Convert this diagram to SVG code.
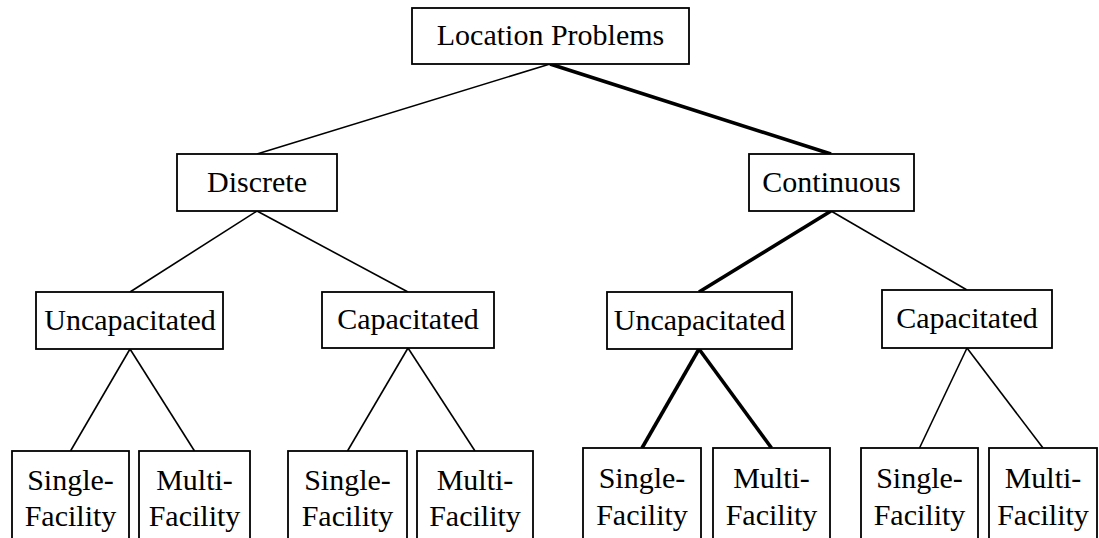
<svg xmlns="http://www.w3.org/2000/svg" width="1099" height="538" viewBox="0 0 1099 538">
<style>
  .box { fill: #ffffff; stroke: #000000; stroke-width: 1.8; }
  .lbl { fill: #000000; text-anchor: middle; }
  .thin { stroke: #000000; stroke-width: 1.6; fill: none; }
  .thick { stroke: #000000; stroke-width: 3.6; fill: none; }
</style>
<rect width="1099" height="538" fill="#ffffff"/>
<g id="connectors">
  <line class="thin" x1="550" y1="64" x2="257" y2="154"/>
  <line class="thick" x1="550" y1="64" x2="831" y2="154"/>
  <line class="thin" x1="257" y1="211" x2="130" y2="292"/>
  <line class="thin" x1="257" y1="211" x2="408" y2="292"/>
  <line class="thick" x1="831" y1="211" x2="699" y2="292"/>
  <line class="thin" x1="831" y1="211" x2="967" y2="290"/>
  <line class="thin" x1="130" y1="349" x2="70.5" y2="451"/>
  <line class="thin" x1="130" y1="349" x2="194.5" y2="451"/>
  <line class="thin" x1="408" y1="348" x2="347.5" y2="451"/>
  <line class="thin" x1="408" y1="348" x2="475" y2="451"/>
  <line class="thick" x1="699" y1="349" x2="642" y2="448"/>
  <line class="thick" x1="699" y1="349" x2="771.5" y2="448"/>
  <line class="thin" x1="967" y1="348" x2="919.5" y2="448"/>
  <line class="thin" x1="967" y1="348" x2="1043" y2="448"/>
</g>
<g id="root">
  <rect class="box" x="412" y="8" width="277" height="56"/>
  <text class="lbl" font-family="Liberation Serif, serif" font-size="30" x="550.5" y="45">Location Problems</text>
</g>
<g id="discrete">
  <rect class="box" x="177" y="154" width="160" height="57"/>
  <text class="lbl" font-family="Liberation Serif, serif" font-size="30" x="257" y="192">Discrete</text>
</g>
<g id="continuous">
  <rect class="box" x="749" y="154" width="165" height="57"/>
  <text class="lbl" font-family="Liberation Serif, serif" font-size="30" x="831.5" y="192">Continuous</text>
</g>
<g id="d-uncap">
  <rect class="box" x="36" y="292" width="187" height="57"/>
  <text class="lbl" font-family="Liberation Serif, serif" font-size="30" x="130" y="330">Uncapacitated</text>
</g>
<g id="d-cap">
  <rect class="box" x="322" y="292" width="172" height="56"/>
  <text class="lbl" font-family="Liberation Serif, serif" font-size="30" x="408" y="329">Capacitated</text>
</g>
<g id="c-uncap">
  <rect class="box" x="607" y="292" width="185" height="57"/>
  <text class="lbl" font-family="Liberation Serif, serif" font-size="30" x="699.5" y="330">Uncapacitated</text>
</g>
<g id="c-cap">
  <rect class="box" x="882" y="290" width="170" height="58"/>
  <text class="lbl" font-family="Liberation Serif, serif" font-size="30" x="967" y="328">Capacitated</text>
</g>
<g id="d-u-single">
  <rect class="box" x="12" y="451" width="117" height="100"/>
  <text class="lbl" font-family="Liberation Serif, serif" font-size="30" x="70.5" y="490">Single-</text>
  <text class="lbl" font-family="Liberation Serif, serif" font-size="30" x="70.5" y="526">Facility</text>
</g>
<g id="d-u-multi">
  <rect class="box" x="139" y="451" width="111" height="100"/>
  <text class="lbl" font-family="Liberation Serif, serif" font-size="30" x="194.5" y="490">Multi-</text>
  <text class="lbl" font-family="Liberation Serif, serif" font-size="30" x="194.5" y="526">Facility</text>
</g>
<g id="d-c-single">
  <rect class="box" x="288" y="451" width="119" height="100"/>
  <text class="lbl" font-family="Liberation Serif, serif" font-size="30" x="347.5" y="490">Single-</text>
  <text class="lbl" font-family="Liberation Serif, serif" font-size="30" x="347.5" y="526">Facility</text>
</g>
<g id="d-c-multi">
  <rect class="box" x="417" y="451" width="116" height="100"/>
  <text class="lbl" font-family="Liberation Serif, serif" font-size="30" x="475" y="490">Multi-</text>
  <text class="lbl" font-family="Liberation Serif, serif" font-size="30" x="475" y="526">Facility</text>
</g>
<g id="c-u-single">
  <rect class="box" x="583" y="448" width="118" height="100"/>
  <text class="lbl" font-family="Liberation Serif, serif" font-size="30" x="642" y="488">Single-</text>
  <text class="lbl" font-family="Liberation Serif, serif" font-size="30" x="642" y="525">Facility</text>
</g>
<g id="c-u-multi">
  <rect class="box" x="713" y="448" width="117" height="100"/>
  <text class="lbl" font-family="Liberation Serif, serif" font-size="30" x="771.5" y="488">Multi-</text>
  <text class="lbl" font-family="Liberation Serif, serif" font-size="30" x="771.5" y="525">Facility</text>
</g>
<g id="c-c-single">
  <rect class="box" x="861" y="448" width="117" height="100"/>
  <text class="lbl" font-family="Liberation Serif, serif" font-size="30" x="919.5" y="488">Single-</text>
  <text class="lbl" font-family="Liberation Serif, serif" font-size="30" x="919.5" y="525">Facility</text>
</g>
<g id="c-c-multi">
  <rect class="box" x="989" y="448" width="108" height="100"/>
  <text class="lbl" font-family="Liberation Serif, serif" font-size="30" x="1043" y="488">Multi-</text>
  <text class="lbl" font-family="Liberation Serif, serif" font-size="30" x="1043" y="525">Facility</text>
</g>
</svg>
